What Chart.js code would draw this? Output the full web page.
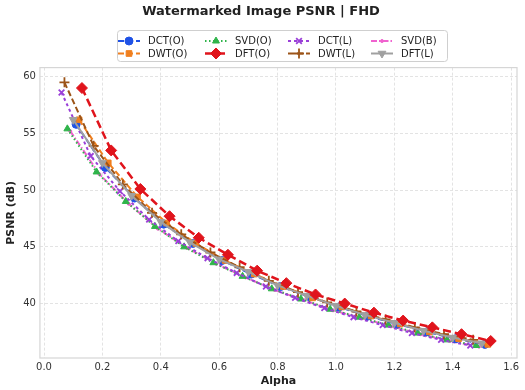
<!DOCTYPE html>
<html>
<head>
<meta charset="utf-8">
<script src="https://cdn.jsdelivr.net/npm/chart.js@4/dist/chart.umd.min.js"></script>
<style>
  body { margin: 0; background: #fff; }
  #wrap { width: 525px; height: 390px; }
</style>
</head>
<body>
<div id="wrap"><canvas id="psnrChart" width="525" height="390"></canvas></div>
<script>
// Alpha values (each method was plotted with a small x shift)
const alphaDCTO = [0.11, 0.21, 0.31, 0.41, 0.51, 0.61, 0.71, 0.81, 0.91, 1.01, 1.11, 1.21, 1.31, 1.41, 1.51];
const alphaSVDO = [0.08, 0.18, 0.28, 0.38, 0.48, 0.58, 0.68, 0.78, 0.88, 0.98, 1.08, 1.18, 1.28, 1.38, 1.48];
const alphaDCTL = [0.06, 0.16, 0.26, 0.36, 0.46, 0.56, 0.66, 0.76, 0.86, 0.96, 1.06, 1.16, 1.26, 1.36, 1.46];
const alphaSVDB = [0.09, 0.19, 0.29, 0.39, 0.49, 0.59, 0.69, 0.79, 0.89, 0.99, 1.09, 1.19, 1.29, 1.39, 1.49];
const alphaDWTO = [0.12, 0.22, 0.32, 0.42, 0.52, 0.62, 0.72, 0.82, 0.92, 1.02, 1.12, 1.22, 1.32, 1.42, 1.52];
const alphaDFTO = [0.13, 0.23, 0.33, 0.43, 0.53, 0.63, 0.73, 0.83, 0.93, 1.03, 1.13, 1.23, 1.33, 1.43, 1.53];
const alphaDWTL = [0.07, 0.17, 0.27, 0.37, 0.47, 0.57, 0.67, 0.77, 0.87, 0.97, 1.07, 1.17, 1.27, 1.37, 1.47];
const alphaDFTL = [0.10, 0.20, 0.30, 0.40, 0.50, 0.60, 0.70, 0.80, 0.90, 1.00, 1.10, 1.20, 1.30, 1.40, 1.50];

// PSNR (dB)
const psnrDCTO = [55.8, 52.0, 49.3, 47.0, 45.3, 43.8, 42.6, 41.5, 40.6, 39.7, 38.9, 38.2, 37.5, 36.9, 36.4];
const psnrSVDO = [55.4, 51.6, 49.0, 46.8, 45.0, 43.6, 42.4, 41.3, 40.4, 39.5, 38.8, 38.1, 37.4, 36.8, 36.3];
const psnrDCTL = [58.6, 53.0, 49.9, 47.4, 45.5, 44.0, 42.7, 41.5, 40.5, 39.6, 38.8, 38.1, 37.4, 36.8, 36.3];
const psnrSVDB = [55.2, 51.4, 48.8, 46.6, 44.9, 43.5, 42.3, 41.2, 40.3, 39.4, 38.7, 38.0, 37.3, 36.7, 36.2];
const psnrDWTO = [56.2, 52.4, 49.4, 47.1, 45.3, 43.8, 42.6, 41.5, 40.5, 39.7, 38.9, 38.2, 37.5, 36.9, 36.4];
const psnrDFTO = [59.0, 53.5, 50.1, 47.7, 45.8, 44.3, 42.9, 41.8, 40.8, 40.0, 39.2, 38.5, 37.9, 37.3, 36.7];
const psnrDWTL = [59.5, 53.9, 50.5, 48.0, 46.1, 44.5, 43.2, 42.0, 41.0, 40.1, 39.3, 38.6, 37.9, 37.3, 36.8];
const psnrDFTL = [56.2, 52.4, 49.5, 47.2, 45.4, 43.9, 42.8, 41.6, 40.7, 39.8, 39.0, 38.3, 37.6, 37.0, 36.5];

const xTicks = [0.0, 0.2, 0.4, 0.6, 0.8, 1.0, 1.2, 1.4, 1.6];
const yTicks = [40, 45, 50, 55, 60];

Chart.defaults.font.family = 'DejaVu Sans';
Chart.defaults.color = '#333';

function pts(xs, ys) {
    return xs.map((x, i) => ({ x: x, y: ys[i] }));
}

function series(label, xs, ys, color, dash, style, radius, width, order, rotation) {
    return {
        label: label,
        data: pts(xs, ys),
        borderColor: color,
        backgroundColor: color,
        borderDash: dash,
        borderWidth: width,
        pointStyle: style,
        pointRadius: radius,
        pointRotation: rotation || 0,
        pointBorderColor: color,
        pointBackgroundColor: color,
        pointBorderWidth: style === 'cross' || style === 'crossRot' ? 1.8 : 1,
        tension: 0,
        fill: false,
        order: order
    };
}

// legend box in the matplotlib style (4 columns x 2 rows)
const legendBox = {
    id: 'legendBox',
    afterDraw(chart) {
        const ctx = chart.ctx;
        ctx.save();
        ctx.fillStyle = 'rgba(255,255,255,0.9)';
        ctx.strokeStyle = '#cfcfcf';
        ctx.lineWidth = 1;
        ctx.beginPath();
        if (ctx.roundRect) ctx.roundRect(117.5, 30.5, 330, 31, 3); else ctx.rect(117.5, 30.5, 330, 31);
        ctx.fill();
        ctx.stroke();
        const cols = [115, 202, 285, 368];
        chart.data.datasets.forEach((ds, i) => {
            const x0 = cols[i % 4] + 3;
            const y = 41 + Math.floor(i / 4) * 12.5;
            ctx.strokeStyle = ds.borderColor;
            ctx.lineWidth = ds.borderWidth;
            ctx.setLineDash(ds.borderDash);
            ctx.beginPath();
            ctx.moveTo(x0, y);
            ctx.lineTo(x0 + 22, y);
            ctx.stroke();
            ctx.setLineDash([]);
            if (ds.pointRadius > 0) {
                ctx.fillStyle = ds.pointBackgroundColor;
                ctx.strokeStyle = ds.pointBorderColor;
                ctx.lineWidth = ds.pointBorderWidth;
                Chart.helpers.drawPoint(ctx, {
                    pointStyle: ds.pointStyle,
                    radius: ds.pointRadius,
                    rotation: ds.pointRotation,
                    borderWidth: ds.pointBorderWidth
                }, x0 + 11, y);
            }
            ctx.fillStyle = '#222';
            ctx.font = '10px "DejaVu Sans"';
            ctx.textBaseline = 'middle';
            ctx.fillText(ds.label, x0 + 30, y + 0.5);
        });
        ctx.restore();
    }
};

// grey frame around the plot area
const frame = {
    id: 'frame',
    afterDatasetsDraw(chart) {
        const a = chart.chartArea;
        const ctx = chart.ctx;
        ctx.save();
        ctx.strokeStyle = '#d6d6d6';
        ctx.lineWidth = 1.2;
        ctx.strokeRect(a.left, a.top, a.right - a.left, a.bottom - a.top);
        ctx.restore();
    }
};

const ctx = document.getElementById('psnrChart').getContext('2d');
new Chart(ctx, {
    type: 'line',
    data: {
        datasets: [
            series('DCT(O)', alphaDCTO, psnrDCTO, '#1f52e6', [6, 3], 'circle', 4, 2, 5),
            series('SVD(O)', alphaSVDO, psnrSVDO, '#2fb44a', [1.5, 2.5], 'triangle', 4, 2, 7),
            series('DCT(L)', alphaDCTL, psnrDCTL, '#9a3fd8', [3, 3], 'crossRot', 4, 2, 6),
            series('SVD(B)', alphaSVDB, psnrSVDB, '#f062cf', [6, 2, 1.5, 2], 'circle', 1.5, 2, 8),
            series('DWT(O)', alphaDWTO, psnrDWTO, '#f07f1e', [6, 3], 'rect', 4, 2, 4),
            series('DFT(O)', alphaDFTO, psnrDFTO, '#e0141c', [8, 4], 'rectRot', 5.5, 2.5, 0),
            series('DWT(L)', alphaDWTL, psnrDWTL, '#9c5418', [6, 3], 'cross', 5, 2, 3),
            series('DFT(L)', alphaDFTL, psnrDFTL, '#a0a0a0', [], 'triangle', 4.5, 2, 1, 180)
        ]
    },
    options: {
        responsive: false,
        animation: false,
        layout: { padding: { left: 5, right: 8, top: 0, bottom: 3 } },
        plugins: {
            legend: { display: false },
            tooltip: { enabled: false },
            title: {
                display: true,
                text: 'Watermarked Image PSNR | FHD',
                font: { size: 13, weight: 'bold' },
                color: '#222',
                padding: { top: 4, bottom: 48 }
            }
        },
        scales: {
            x: {
                type: 'linear',
                min: -0.014,
                max: 1.62,
                afterBuildTicks: (scale) => { scale.ticks = xTicks.map(v => ({ value: v })); },
                ticks: {
                    font: { size: 10 },
                    color: '#333',
                    padding: 3,
                    callback: (v) => Number(v).toFixed(1)
                },
                grid: { color: '#e3e3e3', drawTicks: false },
                border: { display: true, color: 'rgba(0,0,0,0)', dash: [3, 2] },
                title: { display: true, text: 'Alpha', font: { size: 11, weight: 'bold', lineHeight: 1 }, color: '#222', padding: { top: 0, bottom: 0 } }
            },
            y: {
                min: 35.2,
                max: 60.8,
                afterBuildTicks: (scale) => { scale.ticks = yTicks.map(v => ({ value: v })); },
                ticks: { font: { size: 10 }, color: '#333', padding: 4 },
                grid: { color: '#e3e3e3', drawTicks: false },
                border: { display: true, color: 'rgba(0,0,0,0)', dash: [3, 2] },
                title: { display: true, text: 'PSNR (dB)', font: { size: 11, weight: 'bold' }, color: '#222', padding: { top: 0, bottom: 1 } }
            }
        }
    },
    plugins: [frame, legendBox]
});
</script>
</body>
</html>
